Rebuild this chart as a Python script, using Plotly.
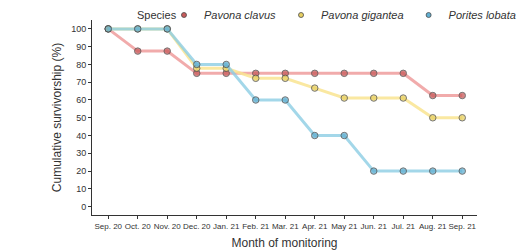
import plotly.graph_objects as go

months = ["Sep. 20", "Oct. 20", "Nov. 20", "Dec. 20", "Jan. 21", "Feb. 21", "Mar. 21",
          "Apr. 21", "May 21", "Jun. 21", "Jul. 21", "Aug. 21", "Sep. 21"]
pavona_clavus = [100, 87.5, 87.5, 75, 75, 75, 75, 75, 75, 75, 75, 62.5, 62.5]
pavona_gigantea = [100, 100, 100, 77.8, 77.8, 72.2, 72.2, 66.7, 61.1, 61.1, 61.1, 50, 50]
porites_lobata = [100, 100, 100, 80, 80, 60, 60, 40, 40, 20, 20, 20, 20]
y_ticks = [0, 10, 20, 30, 40, 50, 60, 70, 80, 90, 100]

series = [
    ("Pavona clavus", pavona_clavus, "rgba(238,150,150,0.8)", "#c95b5b"),
    ("Pavona gigantea", pavona_gigantea, "rgba(249,228,145,0.85)", "#e8d062"),
    ("Porites lobata", porites_lobata, "rgba(140,205,228,0.8)", "#62b0d2"),
]

fig = go.Figure()
for name, vals, lc, mc in series:
    fig.add_trace(go.Scatter(
        x=months, y=vals, mode="lines+markers", showlegend=False,
        line=dict(color=lc, width=3),
        marker=dict(color=mc, size=6.5, opacity=0.75, line=dict(color="#4a4a4a", width=1)),
    ))
for name, vals, lc, mc in series:
    fig.add_trace(go.Scatter(
        x=[None], y=[None], mode="markers", name="<i>%s</i>" % name, showlegend=True,
        marker=dict(color=mc, size=5, line=dict(color="#4a4a4a", width=0.8)),
    ))

narrow = "Liberation Sans Narrow, Liberation Sans, sans-serif"
regular = "Liberation Sans, Arial, sans-serif"
leg_y = 1 + 5 / 195
fig.update_layout(
    width=528, height=252,
    margin=dict(l=84, r=59, t=12, b=45, autoexpand=False),
    paper_bgcolor="white", plot_bgcolor="white",
    font=dict(family=regular, color="#333333", size=9),
    showlegend=True,
    legend=dict(orientation="h", xref="paper", yref="paper",
                x=0.187, xanchor="left", y=leg_y, yanchor="middle",
                font=dict(size=11, family=narrow), itemwidth=30, tracegroupgap=0,
                bgcolor="rgba(0,0,0,0)"),
    annotations=[dict(text="Species", xref="paper", yref="paper", x=0.112,
                      y=leg_y, xanchor="left", yanchor="middle", showarrow=False,
                      font=dict(size=11, family=narrow, color="#333333"))],
    xaxis=dict(showline=True, linecolor="#333333", linewidth=1, ticks="outside",
               ticklen=3, tickcolor="#333333", showgrid=False, zeroline=False,
               tickangle=0, tickfont=dict(size=8, family=narrow), range=[-0.55, 12.5],
               title=dict(text="Month of monitoring", font=dict(size=12), standoff=9)),
    yaxis=dict(showline=True, linecolor="#333333", linewidth=1, ticks="outside",
               ticklen=3, tickcolor="#333333", showgrid=False, zeroline=False,
               tickvals=y_ticks, range=[-4.7, 105], tickfont=dict(size=9),
               title=dict(text="Cumulative survivorship (%)", font=dict(size=12), standoff=6)),
)

fig.write_html("out.html")
